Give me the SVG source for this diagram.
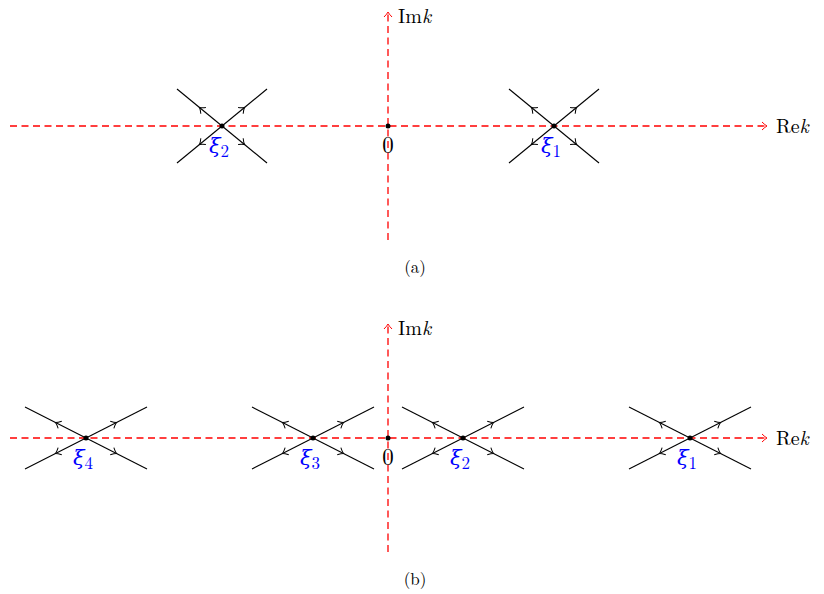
<svg xmlns="http://www.w3.org/2000/svg" width="824" height="594" viewBox="0 0 824 594">
<defs>
<marker id="arr" markerUnits="userSpaceOnUse" viewBox="-7 -5 9 10" markerWidth="9" markerHeight="10" refX="0" refY="0" orient="auto" overflow="visible">
<path d="M-5,-4 Q-2,-1 0,0 Q-2,1 -5,4" fill="none" stroke="#000" stroke-width="1"/>
</marker>
<marker id="rarr" markerUnits="userSpaceOnUse" viewBox="-7 -5 9 10" markerWidth="9" markerHeight="10" refX="0" refY="0" orient="auto" overflow="visible">
<path d="M-5,-4 Q-2,-1 0,0 Q-2,1 -5,4" fill="none" stroke="#ff0000" stroke-width="1"/>
</marker>
</defs>
<style>
.ax{fill:none;stroke:#ff0000;stroke-width:1.3;stroke-dasharray:7 4.5}
.arm{fill:none;stroke:#000;stroke-width:1.1;marker-mid:url(#arr)}
.t{font-family:"Latin Modern Roman","Liberation Serif","DejaVu Serif",serif;font-size:20px;fill:#000}
.zero{font-family:"Latin Modern Roman","Liberation Serif","DejaVu Serif",serif;font-size:23px;fill:#000;text-anchor:middle}
.xi{font-family:"DejaVu Serif",serif;font-size:21px;font-style:italic;fill:#0000ff}
.sub{font-family:"Latin Modern Roman","Liberation Serif",serif;font-style:normal;font-size:17px}
.cap{font-family:"Latin Modern Roman","Liberation Serif","DejaVu Serif",serif;font-size:17px;fill:#000;text-anchor:middle}
</style>
<g id="connectors">
<path class="ax" d="M10,126 H767" marker-end="url(#rarr)"/>
<path class="ax" d="M388,240 V12" marker-end="url(#rarr)"/>
<path class="ax" d="M10,438 H767" marker-end="url(#rarr)"/>
<path class="ax" d="M388,552 V324" marker-end="url(#rarr)"/>
</g>
<g id="axis-labels-a">
<text class="t" x="398" y="23">Im<tspan font-style="italic">k</tspan></text>
<text class="t" x="776" y="133">Re<tspan font-style="italic">k</tspan></text>
</g>
<g id="origin-a">
<circle cx="388" cy="126" r="2.5" fill="#000"/>
<text class="zero" x="388" y="153">0</text>
</g>
<g id="xi2-a">
<path class="arm" d="M222,126 L199.5,107.5 L177,89"/>
<path class="arm" d="M222,126 L244.5,107.5 L267,89"/>
<path class="arm" d="M222,126 L199.5,144.5 L177,163"/>
<path class="arm" d="M222,126 L244.5,144.5 L267,163"/>
<circle cx="222" cy="126" r="2.5" fill="#000"/>
<text class="xi" x="209" y="153">ξ<tspan class="sub" dy="4">2</tspan></text>
</g>
<g id="xi1-a">
<path class="arm" d="M554,126 L531.5,107.5 L509,89"/>
<path class="arm" d="M554,126 L576.5,107.5 L599,89"/>
<path class="arm" d="M554,126 L531.5,144.5 L509,163"/>
<path class="arm" d="M554,126 L576.5,144.5 L599,163"/>
<circle cx="554" cy="126" r="2.5" fill="#000"/>
<text class="xi" x="541" y="153">ξ<tspan class="sub" dy="4">1</tspan></text>
</g>
<text class="cap" x="415" y="273">(a)</text>
<g id="axis-labels-b">
<text class="t" x="398" y="335">Im<tspan font-style="italic">k</tspan></text>
<text class="t" x="776" y="445">Re<tspan font-style="italic">k</tspan></text>
</g>
<g id="origin-b">
<circle cx="388" cy="438" r="2.5" fill="#000"/>
<text class="zero" x="388" y="465">0</text>
</g>
<g id="xi4-b">
<path class="arm" d="M86,438 L55.5,422.5 L25,407"/>
<path class="arm" d="M86,438 L116.5,422.5 L147,407"/>
<path class="arm" d="M86,438 L55.5,453.5 L25,469"/>
<path class="arm" d="M86,438 L116.5,453.5 L147,469"/>
<circle cx="86" cy="438" r="2.5" fill="#000"/>
<text class="xi" x="73" y="465">ξ<tspan class="sub" dy="4">4</tspan></text>
</g>
<g id="xi3-b">
<path class="arm" d="M313,438 L282.5,422.5 L252,407"/>
<path class="arm" d="M313,438 L343.5,422.5 L374,407"/>
<path class="arm" d="M313,438 L282.5,453.5 L252,469"/>
<path class="arm" d="M313,438 L343.5,453.5 L374,469"/>
<circle cx="313" cy="438" r="2.5" fill="#000"/>
<text class="xi" x="300" y="465">ξ<tspan class="sub" dy="4">3</tspan></text>
</g>
<g id="xi2-b">
<path class="arm" d="M463,438 L432.5,422.5 L402,407"/>
<path class="arm" d="M463,438 L493.5,422.5 L524,407"/>
<path class="arm" d="M463,438 L432.5,453.5 L402,469"/>
<path class="arm" d="M463,438 L493.5,453.5 L524,469"/>
<circle cx="463" cy="438" r="2.5" fill="#000"/>
<text class="xi" x="450" y="465">ξ<tspan class="sub" dy="4">2</tspan></text>
</g>
<g id="xi1-b">
<path class="arm" d="M690,438 L659.5,422.5 L629,407"/>
<path class="arm" d="M690,438 L720.5,422.5 L751,407"/>
<path class="arm" d="M690,438 L659.5,453.5 L629,469"/>
<path class="arm" d="M690,438 L720.5,453.5 L751,469"/>
<circle cx="690" cy="438" r="2.5" fill="#000"/>
<text class="xi" x="677" y="465">ξ<tspan class="sub" dy="4">1</tspan></text>
</g>
<text class="cap" x="415" y="585">(b)</text>
</svg>
